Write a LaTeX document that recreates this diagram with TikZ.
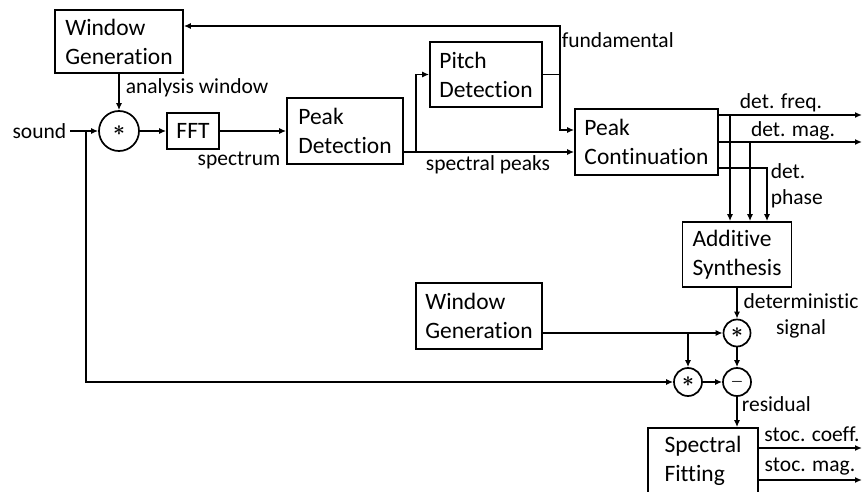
\documentclass[tikz,border=0pt]{standalone}
\usepackage{fontspec}
\setmainfont{Carlito}[Ligatures=CommonOff]
\usetikzlibrary{arrows.meta}
\begin{document}
\begin{tikzpicture}[x=1pt,y=-1pt,line width=1.7pt,
  blk/.style={draw,align=left,inner xsep=8pt,font=\fontsize{23.5}{29}\selectfont},
  op/.style={draw,circle,inner sep=0pt,minimum size=#1,font=\fontsize{22}{22}\selectfont\boldmath},
  lbl/.style={font=\fontsize{21.5}{26}\selectfont,inner sep=0pt},
  arr/.style={-{Latex[length=7pt,width=6pt]}}]
  \useasboundingbox (0,0) rectangle (863,492);
  % analysis part
  \node[blk,minimum width=128pt,minimum height=63pt] (wgtop) at (119,41.5) {Window\\Generation};
  \node[op=40pt] (mulA) at (119,131) {$\ast$};
  \node[blk,minimum width=52pt,minimum height=36pt] (fft) at (193,131) {FFT};
  \node[blk,minimum width=116pt,minimum height=66pt] (peakdet) at (345,131) {Peak\\Detection};
  \node[blk,minimum width=112pt,minimum height=65pt] (pitch) at (486,74.5) {Pitch\\Detection};
  \node[blk,minimum width=143pt,minimum height=66pt] (peakcont) at (646.5,142) {Peak\\Continuation};
  % synthesis and residual
  \node[blk,minimum width=109pt,minimum height=65pt] (addsyn) at (737,254.5) {Additive\\Synthesis};
  \node[blk,minimum width=126pt,minimum height=66pt] (wgbot) at (479,316) {Window\\Generation};
  \node[op=27pt] (mulB) at (737,333) {$\ast$};
  \node[op=28pt] (mulC) at (688,382) {$\ast$};
  \node[op=28pt,font=\fontsize{15}{15}\selectfont\boldmath] (sub) at (737,382) {$-$};
  \node[blk,minimum width=110pt,minimum height=66pt] (specfit) at (703,461) {Spectral\\Fitting};
  % branch points and outputs
  \coordinate (jn) at (86,131);
  \coordinate (pk) at ([yshift=-21pt]peakdet.east);
  \coordinate (br) at ([xshift=12pt]pk);
  \coordinate (fund) at ([xshift=17pt]pitch.east);
  \coordinate (tapF) at (730,115);
  \coordinate (tapM) at (750,142);
  \coordinate (wb) at (688,333);
  \coordinate (outF) at (862,115);
  \coordinate (outM) at (862,142);
  \coordinate (outC) at (862,448);
  \coordinate (outS) at (862,480);
  % connectors
  \node[lbl,anchor=east] (sound) at (67,131) {sound};
  \draw[arr] ([xshift=3pt]sound.east) -- (mulA);
  \draw[arr] (jn) |- (mulC);
  \draw[arr] (wgtop) -- (mulA);
  \draw[arr] (mulA) -- (fft);
  \draw[arr] (fft) -- (peakdet);
  \draw[arr] (pk) -- (pk -| peakcont.west);
  \draw[arr] (br) |- (pitch);
  \draw (pitch) -- (fund);
  \draw[arr] (fund) |- ([yshift=12pt]peakcont.west);
  \draw[arr] (fund) |- ([yshift=15.5pt]wgtop.east);
  \draw[arr] ([yshift=27pt]peakcont.east) -- (outF);
  \draw[arr] (peakcont.east) -- (outM);
  \draw[arr] ([yshift=-26pt]peakcont.east) -| ([xshift=30pt]addsyn.north);
  \foreach \t in {tapF,tapM} \draw[arr] (\t) -- (\t |- addsyn.north);
  \draw[arr] (addsyn) -- (mulB);
  \draw[arr] ([yshift=-17pt]wgbot.east) -- (mulB);
  \draw[arr] (wb) -- (mulC);
  \draw[arr] (mulC) -- (sub);
  \draw[arr] (mulB) -- (sub);
  \draw[arr] (sub) -- (sub |- specfit.north);
  \foreach \o in {outC,outS} \draw[arr] (specfit.east |- \o) -- (\o);
  % labels
  \node[lbl,anchor=west] (lwin) at (125,88) {analysis window};
  \node[lbl] (lspec) at (239,160) {spectrum};
  \node[lbl] (lpeaks) at (488,165) {spectral peaks};
  \node[lbl,anchor=west] (lfund) at (561,40) {fundamental};
  \node[lbl] (lfreq) at (781,103) {det. freq.};
  \node[lbl] (lmag) at (793,131) {det. mag.};
  \node[lbl,align=left,anchor=west] (lphase) at (770,186) {det.\\phase};
  \node[lbl,align=center] (ldet) at (801,316) {deterministic\\signal};
  \node[lbl,anchor=west] (lres) at (741,404) {residual};
  \node[lbl] (lcoef) at (812,434) {stoc. coeff.};
  \node[lbl] (lsmag) at (810,467) {stoc. mag.};
\end{tikzpicture}
\end{document}
